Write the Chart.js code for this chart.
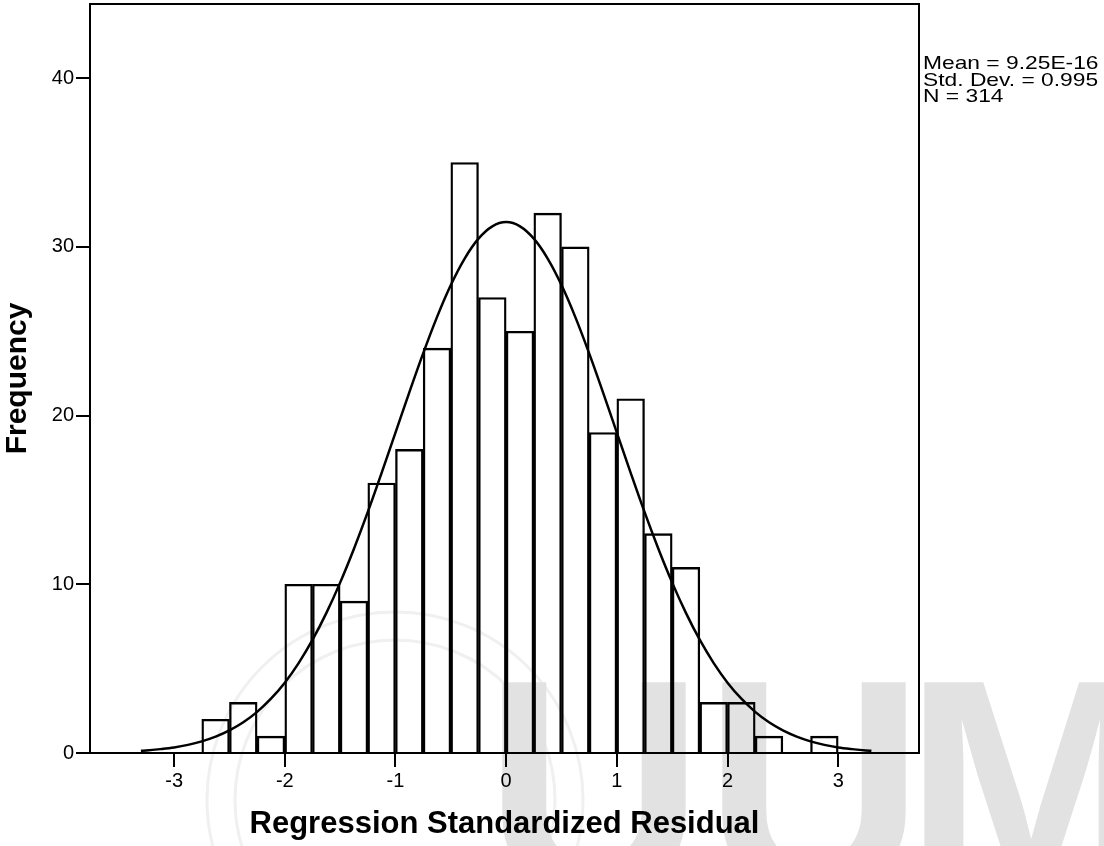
<!DOCTYPE html>
<html>
<head>
<meta charset="utf-8">
<title>Regression Standardized Residual</title>
<script src="https://cdn.jsdelivr.net/npm/chart.js@4.4.1/dist/chart.umd.min.js"></script>
<style>
  html, body { margin: 0; padding: 0; background: #ffffff; }
  #chart-box { width: 1104px; height: 846px; }
</style>
</head>
<body>
<div id="chart-box"><canvas id="histogram" width="1104" height="846"></canvas></div>
<script>
const FONT = "'Liberation Sans', Arial, Helvetica, sans-serif";

// Histogram bins (centres, width 0.25) and their counts
const binCenters = [-2.625, -2.375, -2.125, -1.875, -1.625, -1.375, -1.125, -0.875, -0.625, -0.375, -0.125,
  0.125, 0.375, 0.625, 0.875, 1.125, 1.375, 1.625, 1.875, 2.125, 2.375, 2.625, 2.875];
const frequencies = [2, 3, 1, 10, 10, 9, 16, 18, 24, 35, 27, 25, 32, 30, 19, 21, 13, 11, 3, 3, 1, 0, 1];

// Normal curve overlay
const curveX = [-3.3, -3.25, -3.125, -3.0, -2.875, -2.75, -2.625, -2.5, -2.375, -2.25, -2.125, -2.0,
  -1.875, -1.75, -1.625, -1.5, -1.375, -1.25, -1.125, -1.0, -0.875, -0.75, -0.625, -0.5, -0.375, -0.25, -0.125,
  0, 0.125, 0.25, 0.375, 0.5, 0.625, 0.75, 0.875, 1.0, 1.125, 1.25, 1.375, 1.5, 1.625, 1.75, 1.875,
  2.0, 2.125, 2.25, 2.375, 2.5, 2.625, 2.75, 2.875, 3.0, 3.125, 3.25, 3.3];
const curveY = [0.13, 0.15, 0.23, 0.33, 0.48, 0.69, 0.97, 1.34, 1.82, 2.44, 3.22, 4.17,
  5.33, 6.70, 8.29, 10.10, 12.11, 14.29, 16.61, 18.99, 21.38, 23.69, 25.84, 27.74, 29.31, 30.49, 31.22,
  31.47, 31.22, 30.49, 29.31, 27.74, 25.84, 23.69, 21.38, 18.99, 16.61, 14.29, 12.11, 10.10, 8.29, 6.70, 5.33,
  4.17, 3.22, 2.44, 1.82, 1.34, 0.97, 0.69, 0.48, 0.33, 0.23, 0.15, 0.13];

const xTicks = [-3, -2, -1, 0, 1, 2, 3];
const yTicks = [0, 10, 20, 30, 40];
const statsLines = ["Mean = 9.25E-16", "Std. Dev. = 0.995", "N = 314"];

// faint UUM watermark behind everything
const watermark = {
  id: 'watermark',
  beforeDraw(chart) {
    const ctx = chart.ctx;
    ctx.save();
    ctx.strokeStyle = '#f0f0f0';
    ctx.lineWidth = 3;
    ctx.beginPath();
    ctx.arc(395, 800, 188, 0, Math.PI * 2);
    ctx.stroke();
    ctx.beginPath();
    ctx.arc(395, 800, 160, 0, Math.PI * 2);
    ctx.stroke();
    ctx.fillStyle = '#e2e2e2';
    ctx.font = "bold 305px " + FONT;
    ctx.textBaseline = 'alphabetic';
    ctx.fillText('U', 484, 892);
    ctx.fillText('U', 704, 892);
    ctx.fillText('M', 904, 892);
    ctx.restore();
  }
};

// closes the plot box and writes the summary statistics
const frameAndStats = {
  id: 'frameAndStats',
  afterDraw(chart) {
    const ctx = chart.ctx;
    const a = chart.chartArea;
    ctx.save();
    ctx.strokeStyle = '#000';
    ctx.lineWidth = 2;
    ctx.beginPath();
    ctx.moveTo(a.left, a.top);
    ctx.lineTo(a.right, a.top);
    ctx.lineTo(a.right, a.bottom);
    ctx.stroke();
    ctx.fillStyle = '#000';
    ctx.font = "19px " + FONT;
    ctx.textAlign = 'left';
    ctx.textBaseline = 'alphabetic';
    statsLines.forEach((t, i) => {
      ctx.save();
      ctx.translate(a.right + 4, 69 + i * 16.5);
      ctx.scale(1.2, 1);
      ctx.fillText(t, 0, 0);
      ctx.restore();
    });
    ctx.restore();
  }
};

const histogram = new Chart(document.getElementById('histogram'), {
  type: 'bar',
  data: {
    datasets: [
      {
        type: 'line',
        data: curveX.map((x, i) => ({ x: x, y: curveY[i] })),
        borderColor: '#000',
        borderWidth: 2.5,
        pointRadius: 0,
        fill: false,
        cubicInterpolationMode: 'monotone',
        order: 0
      },
      {
        type: 'bar',
        data: binCenters.map((x, i) => ({ x: x, y: frequencies[i] })),
        backgroundColor: 'rgba(255,255,255,0)',
        borderColor: '#000',
        borderWidth: 1.7,
        barPercentage: 1,
        categoryPercentage: 1,
        order: 1
      }
    ]
  },
  options: {
    responsive: false,
    animation: false,
    layout: { padding: { left: 0, right: 185, top: 4, bottom: 0 } },
    plugins: { legend: { display: false }, tooltip: { enabled: false } },
    scales: {
      x: {
        type: 'linear',
        min: -3.76,
        max: 3.73,
        offset: false,
        afterBuildTicks: s => { s.ticks = xTicks.map(v => ({ value: v })); },
        afterFit: s => { s.height = 93; s.paddingLeft = 0; s.paddingRight = 0; },
        grid: { offset: false, drawOnChartArea: false, drawTicks: true, tickLength: 14, color: '#000', lineWidth: 2 },
        border: { display: true, color: '#000', width: 2 },
        ticks: { color: '#000', font: { family: FONT, size: 20 }, padding: 2, callback: v => String(v) },
        title: {
          display: true,
          text: 'Regression Standardized Residual',
          color: '#000',
          font: { family: FONT, size: 31, weight: 'bold', lineHeight: 1 },
          padding: { top: 0, bottom: 6 }
        }
      },
      y: {
        min: 0,
        max: 44.4,
        afterBuildTicks: s => { s.ticks = yTicks.map(v => ({ value: v })); },
        afterFit: s => { s.width = 90; s.paddingTop = 0; s.paddingBottom = 0; },
        grid: { drawOnChartArea: false, drawTicks: true, tickLength: 14, color: '#000', lineWidth: 2 },
        border: { display: true, color: '#000', width: 2 },
        ticks: { color: '#000', font: { family: FONT, size: 20 }, padding: 2, callback: v => String(v) },
        title: {
          display: true,
          text: 'Frequency',
          color: '#000',
          font: { family: FONT, size: 30, weight: 'bold', lineHeight: 1 },
          padding: { top: 3, bottom: 0 }
        }
      }
    }
  },
  plugins: [watermark, frameAndStats]
});
</script>
</body>
</html>
